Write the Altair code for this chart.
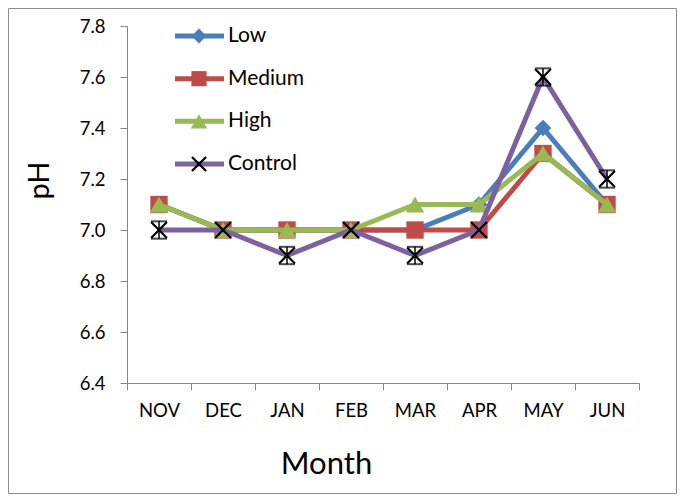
import altair as alt
import pandas as pd

months = ["NOV", "DEC", "JAN", "FEB", "MAR", "APR", "MAY", "JUN"]
series_names = ["Low", "Medium", "High", "Control"]
low = [7.1, 7.0, 7.0, 7.0, 7.0, 7.1, 7.4, 7.1]
medium = [7.1, 7.0, 7.0, 7.0, 7.0, 7.0, 7.3, 7.1]
high = [7.1, 7.0, 7.0, 7.0, 7.1, 7.1, 7.3, 7.1]
control = [7.0, 7.0, 6.9, 7.0, 6.9, 7.0, 7.6, 7.2]
control_err = [0.034, 0.0, 0.034, 0.0, 0.034, 0.0, 0.034, 0.034]
y_ticks = [6.4, 6.6, 6.8, 7.0, 7.2, 7.4, 7.6, 7.8]

line_colors = ["#4A7EBB", "#BE4B48", "#98B954", "#7D60A0"]
marker_colors = ["#4A7EBB", "#BE4B48", "#98B954", "#000000"]
X_PATH = "M-1,-1L1,1M-1,1L1,-1"
shapes = ["diamond", "square", "triangle-up", X_PATH]
sizes = [280, 300, 340, 250]
leg_sizes = [220, 230, 270, 200]

values = [low, medium, high, control]

FONT = "Lato"
W, H = 512, 357
PAD = {"left": 119, "top": 18, "right": 38, "bottom": 111}
Y_DOMAIN = [6.4, 7.8]

x_enc = alt.X(
    "month:N",
    sort=months,
    scale=alt.Scale(type="band", domain=months, paddingInner=0, paddingOuter=0),
    axis=alt.Axis(
        title="Month",
        labelAngle=0,
        tickBand="extent",
        tickSize=7,
        labelPadding=11,
        titleX=199,
        titleY=90,
        titleBaseline="alphabetic",
        titleFontSize=31,
    ),
)
y_enc = alt.Y(
    "value:Q",
    scale=alt.Scale(domain=Y_DOMAIN, nice=False, zero=False),
    axis=alt.Axis(
        title="pH",
        values=y_ticks,
        format=".1f",
        tickSize=7,
        labelPadding=15,
        titleAngle=-90,
        titleX=-79,
        titleY=154,
        titleAlign="center",
        titleBaseline="alphabetic",
        titleFontSize=29,
    ),
)

main_layers = []
for i, name in enumerate(series_names):
    df = pd.DataFrame({"month": months, "value": values[i]})
    line = alt.Chart(df).mark_line(
        color=line_colors[i], strokeWidth=5, strokeJoin="round"
    ).encode(x=x_enc, y=y_enc)
    if name == "Control":
        pts = alt.Chart(df).mark_point(
            shape=shapes[i], filled=False, color=marker_colors[i],
            strokeWidth=2.2, size=sizes[i], opacity=1
        ).encode(x=x_enc, y=y_enc)
    else:
        pts = alt.Chart(df).mark_point(
            shape=shapes[i], filled=True, color=marker_colors[i],
            size=sizes[i], opacity=1
        ).encode(x=x_enc, y=y_enc)
    main_layers += [line, pts]

# Control error bars
err_df = pd.DataFrame({"month": months, "value": control, "err": control_err})
err_df = err_df[err_df["err"] > 0].copy()
err_df["lo"] = err_df["value"] - err_df["err"]
err_df["hi"] = err_df["value"] + err_df["err"]
err_rule = alt.Chart(err_df).mark_rule(color="black", strokeWidth=1.5).encode(
    x=x_enc, y=alt.Y("lo:Q", scale=alt.Scale(domain=Y_DOMAIN, nice=False, zero=False)), y2="hi:Q"
)
cap_lo = alt.Chart(err_df).mark_tick(color="black", thickness=2, size=16).encode(
    x=x_enc, y=alt.Y("lo:Q")
)
cap_hi = alt.Chart(err_df).mark_tick(color="black", thickness=2, size=16).encode(
    x=x_enc, y=alt.Y("hi:Q")
)
main_layers += [err_rule, cap_lo, cap_hi]

main = alt.layer(*main_layers)

# Custom legend (line + marker + label)
leg_df = pd.DataFrame({
    "series": series_names,
    "idx": [0, 1, 2, 3],
    "lcolor": line_colors,
    "mcolor": marker_colors,
})
leg_y = alt.Y("idx:Q", scale=alt.Scale(domain=[0, 3], range=[10, 138]), axis=None)
leg_layers = [
    alt.Chart(leg_df).mark_rule(strokeWidth=5).encode(
        x=alt.value(48), x2=alt.value(97), y=leg_y,
        color=alt.Color("lcolor:N", scale=None),
    )
]
for i, name in enumerate(series_names):
    sub = leg_df[leg_df["series"] == name]
    if name == "Control":
        m = alt.Chart(sub).mark_point(
            shape=shapes[i], filled=False, strokeWidth=2.2, size=leg_sizes[i], opacity=1
        )
    else:
        m = alt.Chart(sub).mark_point(
            shape=shapes[i], filled=True, size=leg_sizes[i], opacity=1
        )
    leg_layers.append(
        m.encode(x=alt.value(72), y=leg_y, color=alt.Color("mcolor:N", scale=None))
    )
leg_layers.append(
    alt.Chart(leg_df).mark_text(
        align="left", baseline="middle", font=FONT, fontSize=21, color="black"
    ).encode(x=alt.value(101), y=leg_y, text="series:N")
)
legend = alt.layer(*leg_layers)

# Outer frame
frame = alt.Chart(pd.DataFrame({"a": [0]})).mark_rect(
    fill="transparent", stroke="#8c8c8c", strokeWidth=1
).encode(
    x=alt.value(-PAD["left"] + 0.5),
    x2=alt.value(W + PAD["right"] - 0.5),
    y=alt.value(-PAD["top"] + 0.5),
    y2=alt.value(H + PAD["bottom"] - 0.5),
)

chart = alt.layer(main, legend, frame).resolve_scale(y="independent").properties(
    width=W,
    height=H,
    autosize=alt.AutoSizeParams(type="none"),
    padding=PAD,
    background="white",
).configure_view(stroke=None).configure_axis(
    grid=False,
    domainColor="#868686",
    tickColor="#868686",
    domainWidth=1,
    tickWidth=1,
    labelFont=FONT,
    labelFontSize=18.5,
    labelColor="black",
    titleFont=FONT,
    titleFontWeight="normal",
    titleColor="black",
)

chart.save("out.html", embed_options={"renderer": "svg", "actions": False})
